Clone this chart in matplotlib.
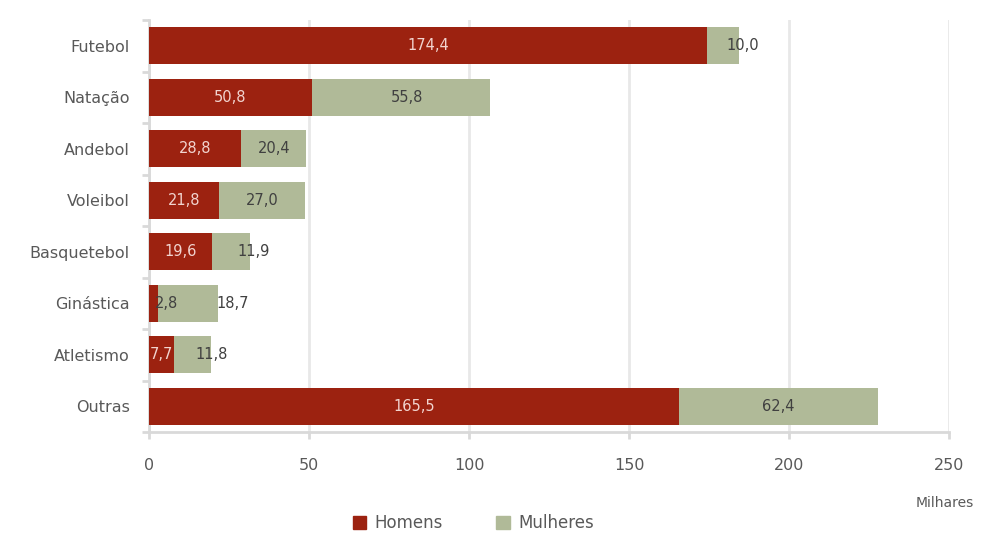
import matplotlib.pyplot as plt
from matplotlib.patches import Patch
import numpy as np

plt.rcParams['font.family'] = ['DejaVu Sans']

# data (milhares)
sports = ['Futebol', 'Natação', 'Andebol', 'Voleibol', 'Basquetebol',
          'Ginástica', 'Atletismo', 'Outras']
homens = [174.4, 50.8, 28.8, 21.8, 19.6, 2.8, 7.7, 165.5]
mulheres = [10.0, 55.8, 20.4, 27.0, 11.9, 18.7, 11.8, 62.4]

red = '#9C2210'
green = '#B0BA98'
gray_txt = '#595959'

fig = plt.figure(figsize=(9.86, 5.34), dpi=100)
ax = fig.add_axes([0.1511, 0.191, 0.8114, 0.7715])

y = np.arange(len(sports))
h = 0.72
ax.barh(y, homens, h, color=red, label='Homens', zorder=3)
ax.barh(y, mulheres, h, left=homens, color=green, label='Mulheres', zorder=3)

# label offsets for narrow segments (data units)
off_h = [0, 0, 0, 0, 0, 4, 0, 0]
off_m = [6, 2, 0, 0, 7, 14, 6, 0]
for i in range(len(sports)):
    ax.text(homens[i] / 2 + off_h[i], y[i], f'{homens[i]:.1f}'.replace('.', ','),
            ha='center', va='center', fontsize=10.5,
            color='#F2D4CF' if homens[i] > 5 else '#404040', zorder=4)
    ax.text(homens[i] + mulheres[i] / 2 + off_m[i], y[i],
            f'{mulheres[i]:.1f}'.replace('.', ','),
            ha='center', va='center', fontsize=10.5, color='#404040', zorder=4)

ax.set_xlim(0, 250)
ax.set_ylim(len(sports) - 0.5, -0.5)
ax.set_xticks(np.arange(0, 251, 50))
ax.set_yticks(y)
ax.set_yticklabels(sports)
ax.set_yticks(np.arange(-0.5, len(sports), 1), minor=True)
ax.tick_params(axis='y', which='major', length=0, pad=14, labelsize=11.5, labelcolor=gray_txt)
ax.tick_params(axis='y', which='minor', length=5, width=2, color='#D9D9D9')
ax.tick_params(axis='x', length=5, width=2, color='#D9D9D9', pad=14,
               labelsize=11.5, labelcolor=gray_txt)

ax.grid(axis='x', color='#E8E8E8', linewidth=2, zorder=0)
for s in ['top', 'right']:
    ax.spines[s].set_visible(False)
for s in ['left', 'bottom']:
    ax.spines[s].set_color('#D9D9D9')
    ax.spines[s].set_linewidth(2)

fig.text(0.958, 0.058, 'Milhares', ha='center', va='center',
         fontsize=10, color=gray_txt)

handles = [Patch(color=red), Patch(color=green)]
fig.legend(handles, ['Homens', 'Mulheres'], loc='center', bbox_to_anchor=(0.48, 0.02),
           ncol=2, frameon=False, fontsize=12, labelcolor=gray_txt,
           handlelength=0.8, handleheight=0.8, columnspacing=3.2, handletextpad=0.5)

fig.savefig('out.png', dpi=100)
